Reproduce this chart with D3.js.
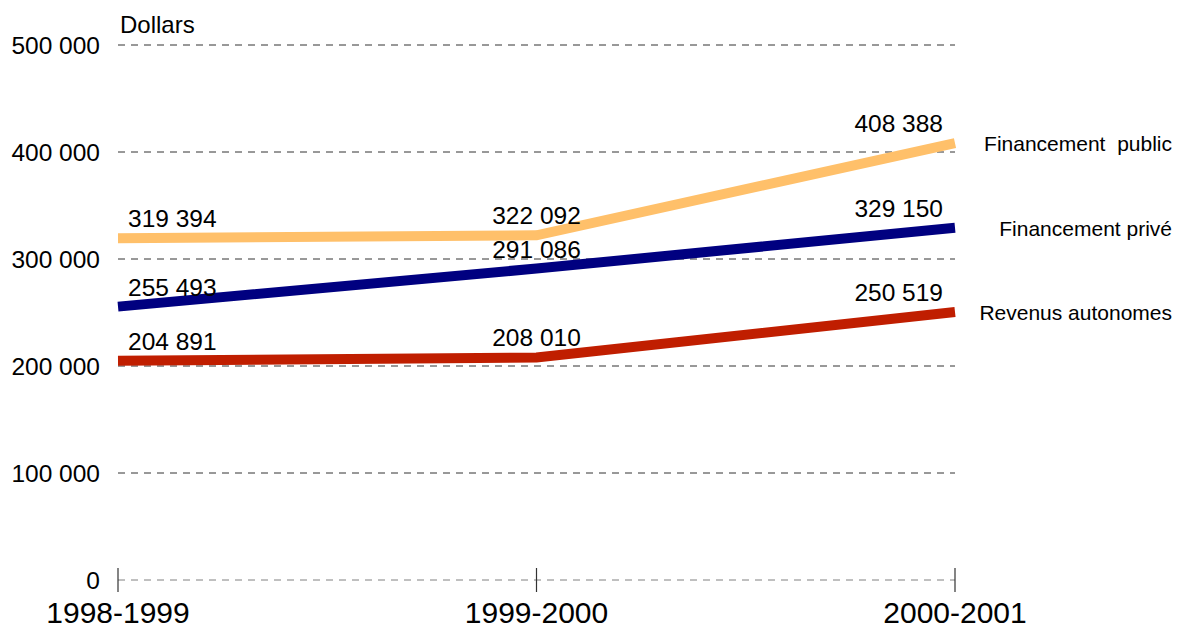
<!DOCTYPE html>
<html>
<head>
<meta charset="utf-8">
<script src="https://cdn.jsdelivr.net/npm/d3@7"></script>
<style>
body{margin:0;background:#fff;}
text{font-family:"Liberation Sans",Arial,sans-serif;fill:#000;}
</style>
</head>
<body>
<div id="chart"></div>
<script>
var years=["1998-1999","1999-2000","2000-2001"];
var publicVals=[319394,322092,408388];
var priveVals=[255493,291086,329150];
var autoVals=[204891,208010,250519];
var seriesNames=["Financement  public","Financement privé","Revenus autonomes"];
var seriesColors=["#ffc06a","#000080","#c01e00"];
var yTicks=[0,100000,200000,300000,400000,500000];

var series=[publicVals,priveVals,autoVals];

var svg=d3.select("#chart")
	.append("svg")
	.attr("width",1177)
	.attr("height",630);

var x=d3.scalePoint().domain(years).range([118,955]);
var y=d3.scaleLinear().domain([0,500000]).range([580,45]);

function fmt(v){
	return d3.format(",")(v).replace(/,/g," ");
}

// grid lines
svg.selectAll("line.grid")
	.data(yTicks)
	.enter()
	.append("line")
	.attr("class","grid")
	.attr("x1",118)
	.attr("x2",955)
	.attr("y1",function(d){return y(d);})
	.attr("y2",function(d){return y(d);})
	.attr("stroke",function(d){return d==0?"#808080":"#333";})
	.attr("stroke-width",1)
	.attr("stroke-dasharray","7,6");

// ticks on the base line
svg.selectAll("line.xtick")
	.data(years)
	.enter()
	.append("line")
	.attr("x1",function(d){return x(d);})
	.attr("x2",function(d){return x(d);})
	.attr("y1",y(0)-12)
	.attr("y2",y(0)+12)
	.attr("stroke","#333")
	.attr("stroke-width",1.2);

svg.selectAll("text.ylab")
	.data(yTicks)
	.enter()
	.append("text")
	.attr("x",100)
	.attr("y",function(d){return y(d)+8.5;})
	.attr("text-anchor","end")
	.attr("font-size","24.5px")
	.text(function(d){return fmt(d);});

svg.append("text")
	.attr("x",120)
	.attr("y",33)
	.attr("font-size","24px")
	.text("Dollars");

svg.selectAll("text.xlab")
	.data(years)
	.enter()
	.append("text")
	.attr("x",function(d){return x(d);})
	.attr("y",623)
	.attr("text-anchor","middle")
	.attr("font-size","30px")
	.text(function(d){return d;});

var line=d3.line()
	.x(function(d,i){return x(years[i]);})
	.y(function(d){return y(d);});

series.forEach(function(s,k){
	svg.append("path")
		.attr("d",line(s))
		.attr("fill","none")
		.attr("stroke",seriesColors[k])
		.attr("stroke-width",10);
});

series.forEach(function(s,k){
	svg.selectAll("text.val"+k)
		.data(s)
		.enter()
		.append("text")
		.attr("x",function(d,i){
			if(i==0) return x(years[i])+10;
			if(i==2) return x(years[i])-12;
			return x(years[i]);
		})
		.attr("y",function(d){return y(d)-11;})
		.attr("text-anchor",function(d,i){return i==0?"start":(i==2?"end":"middle");})
		.attr("font-size","24.5px")
		.text(function(d){return fmt(d);});

	svg.append("text")
		.attr("x",1172)
		.attr("y",y(s[2])+8)
		.attr("text-anchor","end")
		.attr("font-size","21px")
		.style("white-space","pre")
		.text(seriesNames[k]);
});
</script>
</body>
</html>
